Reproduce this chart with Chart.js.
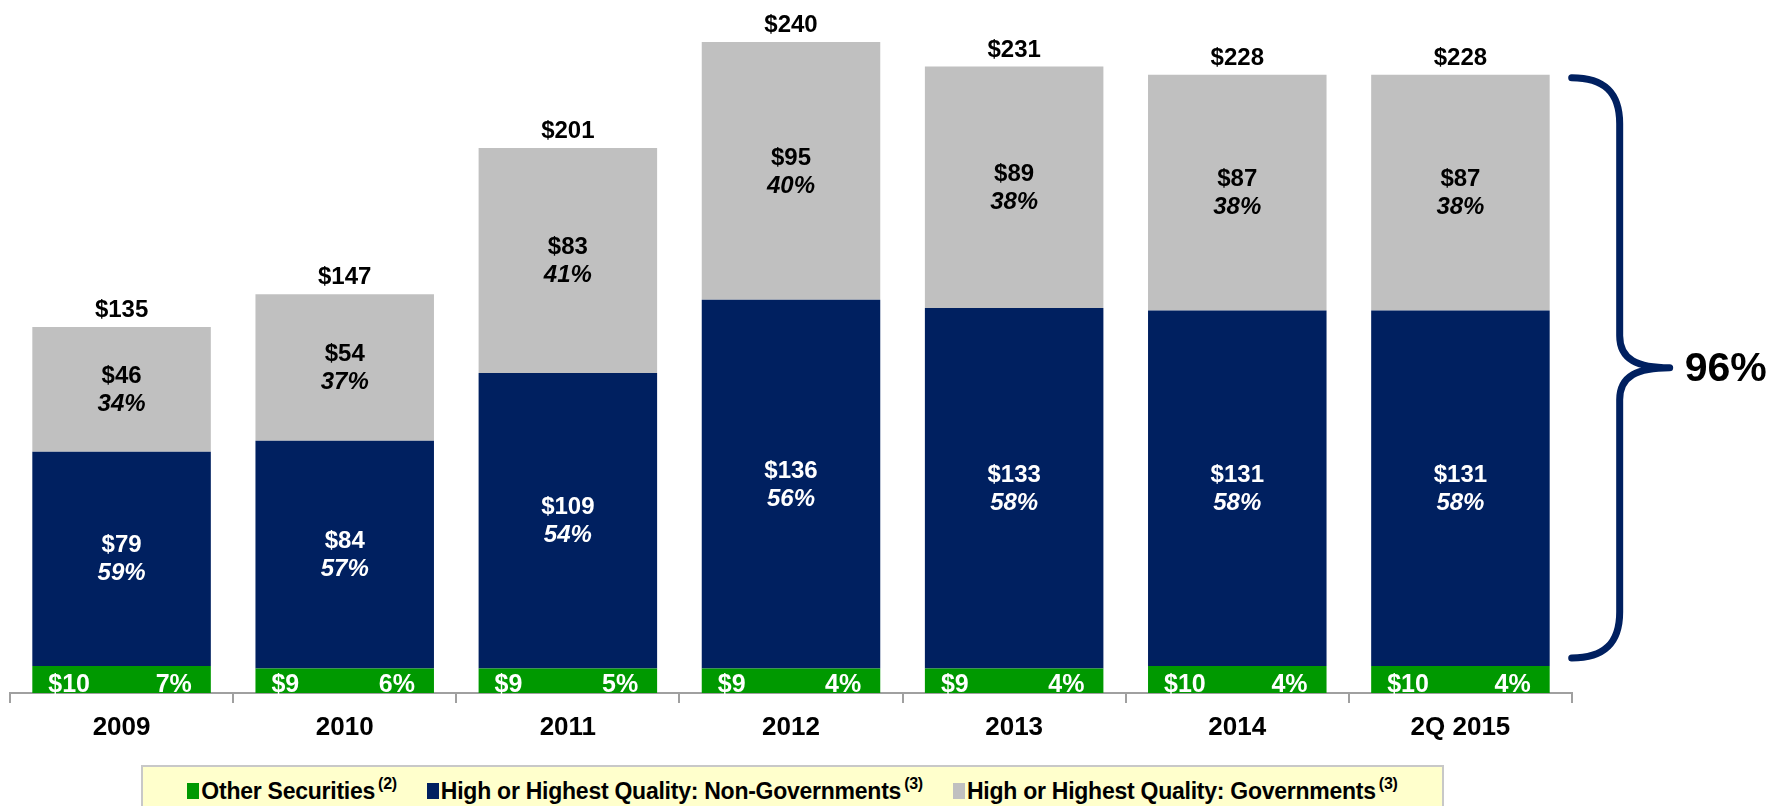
<!DOCTYPE html>
<html>
<head>
<meta charset="utf-8">
<script src="https://cdn.jsdelivr.net/npm/chart.js@4.4.1/dist/chart.umd.min.js"></script>
<style>
    body { margin: 0; background: #fff; }
    #wrap { position: relative; width: 1779px; height: 806px; overflow: hidden; font-family: "Liberation Sans", Arial, sans-serif; }
    #holdingsChart { position: absolute; left: 0; top: 0; }
    #legend {
        position: absolute; left: 141px; top: 765px; width: 1303px; height: 60px;
        background: #ffffcc; border: 2px solid #c8c8c8;
        display: flex; justify-content: center; align-items: flex-start;
        padding-top: 5px; box-sizing: border-box;
        font-weight: bold; font-size: 23px; line-height: 26px; color: #000;
        letter-spacing: -0.25px;
    }
    #legend .item { margin: 0 15px; white-space: nowrap; }
    #legend .box { display: inline-block; width: 12px; height: 16px; margin-right: 2px; }
    #legend sup { font-size: 16px; position: relative; top: -1px; margin-left: 3px; }
</style>
</head>
<body>
<div id="wrap">
    <canvas id="holdingsChart" width="1779" height="806"></canvas>
    <div id="legend"></div>
</div>
<script>
const years = ['2009', '2010', '2011', '2012', '2013', '2014', '2Q 2015'];
const otherSecurities = [10, 9, 9, 9, 9, 10, 10];
const nonGovernments = [79, 84, 109, 136, 133, 131, 131];
const governments = [46, 54, 83, 95, 89, 87, 87];
const totals = [135, 147, 201, 240, 231, 228, 228];
const otherPct = [7, 6, 5, 4, 4, 4, 4];
const nonGovPct = [59, 57, 54, 56, 58, 58, 58];
const govPct = [34, 37, 41, 40, 38, 38, 38];
const seriesNames = ['Other Securities', 'High or Highest Quality: Non-Governments', 'High or Highest Quality: Governments'];
const footnotes = ['(2)', '(3)', '(3)'];
const seriesColors = ['#009900', '#002060', '#c0c0c0'];
const highQualityShare = '96%';

const FONT = '"Liberation Sans", Arial, sans-serif';

// labels inside and above the bars
const barLabels = {
    id: 'barLabels',
    afterDatasetsDraw(chart) {
        const ctx = chart.ctx;
        ctx.save();
        const green = chart.getDatasetMeta(0).data;
        const navy = chart.getDatasetMeta(1).data;
        const gray = chart.getDatasetMeta(2).data;

        for (let i = 0; i < years.length; i++) {
            // green strip: value on the left, share on the right
            const g = green[i];
            ctx.fillStyle = '#fff';
            ctx.font = 'bold 25px ' + FONT;
            ctx.textBaseline = 'alphabetic';
            ctx.textAlign = 'left';
            ctx.fillText('$' + otherSecurities[i], g.x - g.width / 2 + 16, g.base - 1);
            ctx.textAlign = 'right';
            ctx.fillText(otherPct[i] + '%', g.x + g.width / 2 - 19, g.base - 1);

            // navy and gray segments
            [[navy[i], nonGovernments[i], nonGovPct[i], '#fff'],
             [gray[i], governments[i], govPct[i], '#000']].forEach(([bar, val, pct, col]) => {
                const cy = (bar.y + bar.base) / 2;
                ctx.fillStyle = col;
                ctx.textAlign = 'center';
                ctx.textBaseline = 'middle';
                ctx.font = 'bold 24px ' + FONT;
                ctx.fillText('$' + val, bar.x, cy - 13);
                ctx.font = 'italic bold 24px ' + FONT;
                ctx.fillText(pct + '%', bar.x, cy + 15);
            });

            // total on top
            const top = gray[i];
            ctx.fillStyle = '#000';
            ctx.font = 'bold 24px ' + FONT;
            ctx.textAlign = 'center';
            ctx.textBaseline = 'alphabetic';
            ctx.fillText('$' + totals[i], top.x, top.y - 10);
        }
        ctx.restore();
    }
};

// brace around the high quality part of the last bar
const brace = {
    id: 'brace',
    afterDatasetsDraw(chart) {
        const ctx = chart.ctx;
        const last = years.length - 1;
        const topBar = chart.getDatasetMeta(2).data[last];
        const greenBar = chart.getDatasetMeta(0).data[last];
        const x0 = topBar.x + topBar.width / 2 + 22;
        const xv = x0 + 48;
        const xt = xv + 50;
        const yTop = topBar.y + 3;
        const yBot = greenBar.y - 8;
        const yMid = (yTop + yBot) / 2;

        ctx.save();
        ctx.strokeStyle = '#002060';
        ctx.lineWidth = 7;
        ctx.lineCap = 'round';
        ctx.lineJoin = 'round';
        ctx.beginPath();
        ctx.moveTo(x0, yTop);
        ctx.bezierCurveTo(x0 + 32, yTop, xv, yTop + 14, xv, yTop + 46);
        ctx.lineTo(xv, yMid - 32);
        ctx.bezierCurveTo(xv, yMid - 8, xv + 18, yMid, xt, yMid);
        ctx.bezierCurveTo(xv + 18, yMid, xv, yMid + 8, xv, yMid + 32);
        ctx.lineTo(xv, yBot - 46);
        ctx.bezierCurveTo(xv, yBot - 14, x0 + 32, yBot, x0, yBot);
        ctx.stroke();

        ctx.fillStyle = '#000';
        ctx.font = 'bold 41px ' + FONT;
        ctx.textAlign = 'left';
        ctx.textBaseline = 'middle';
        ctx.fillText(highQualityShare, xt + 15, yMid + 2);
        ctx.restore();
    }
};

const holdings = document.getElementById('holdingsChart');

new Chart(holdings, {
    type: 'bar',
    data: {
        labels: years,
        datasets: [
            { label: seriesNames[0], data: otherSecurities, backgroundColor: seriesColors[0] },
            { label: seriesNames[1], data: nonGovernments, backgroundColor: seriesColors[1] },
            { label: seriesNames[2], data: governments, backgroundColor: seriesColors[2] },
        ]
    },
    options: {
        responsive: false,
        animation: false,
        layout: {
            padding: { left: 10, right: 207, top: 15, bottom: 0 }
        },
        datasets: {
            bar: { barPercentage: 0.8, categoryPercentage: 1.0, borderWidth: 0 }
        },
        plugins: {
            legend: { display: false },
            tooltip: { enabled: false },
        },
        scales: {
            x: {
                stacked: true,
                afterFit: (scale) => { scale.height = 113; },
                ticks: {
                    color: '#000',
                    padding: 9,
                    font: { family: FONT, size: 26, weight: 'bold' },
                },
                grid: {
                    drawOnChartArea: false,
                    drawTicks: true,
                    tickLength: 10,
                    color: '#a0a0a0',
                    lineWidth: 2,
                },
                border: { color: '#a0a0a0', width: 2 },
            },
            y: {
                stacked: true,
                display: false,
                min: 0,
                max: 250,
            }
        }
    },
    plugins: [barLabels, brace]
});

// legend box with footnote marks
const legend = document.getElementById('legend');
seriesNames.forEach((name, i) => {
    const item = document.createElement('span');
    item.className = 'item';
    const box = document.createElement('span');
    box.className = 'box';
    box.style.background = seriesColors[i];
    item.appendChild(box);
    item.appendChild(document.createTextNode(name));
    const sup = document.createElement('sup');
    sup.textContent = footnotes[i];
    item.appendChild(sup);
    legend.appendChild(item);
});
</script>
</body>
</html>
